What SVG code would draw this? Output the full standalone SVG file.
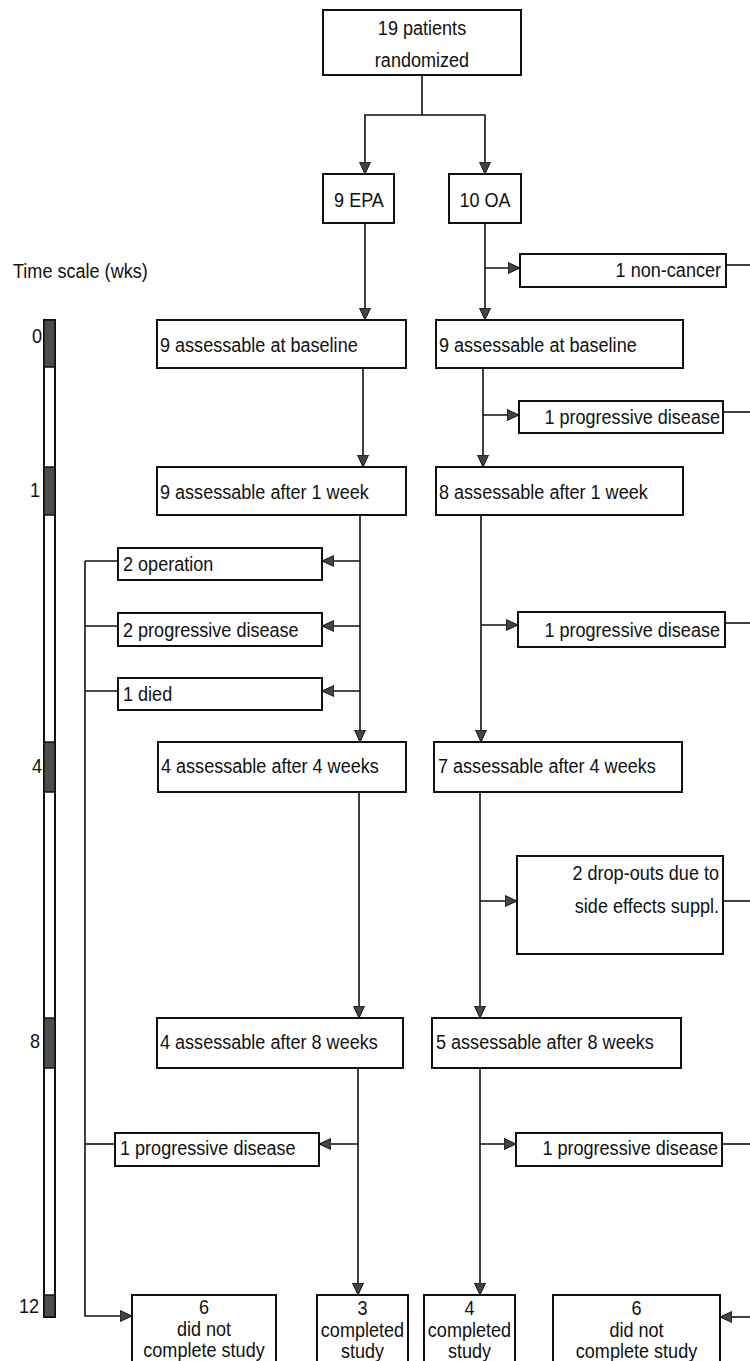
<svg xmlns="http://www.w3.org/2000/svg" width="750" height="1361" viewBox="0 0 750 1361">
<style>
text{font-family:"Liberation Sans",Arial,sans-serif;font-size:21px;fill:#111}
.box{fill:#fff;stroke:#111;stroke-width:2}
.ln{fill:none;stroke:#111;stroke-width:1.6}
.arr{marker-end:url(#ah)}
.c{text-anchor:middle}
.e{text-anchor:end}
.dark{fill:#4d4d4d;stroke:#111;stroke-width:1.5}
.bar{fill:#fff;stroke:#111;stroke-width:2}
</style>
<defs>
<marker id="ah" markerUnits="userSpaceOnUse" markerWidth="13" markerHeight="12" refX="12" refY="6" orient="auto">
<path d="M0,0.5 L12,6 L0,11.5 z" fill="#444" stroke="#111" stroke-width="1"/>
</marker>
</defs>
<rect width="750" height="1361" fill="#fff"/>

<g id="timescale">
<text transform="translate(13 278) scale(.86 1)">Time scale (wks)</text>
<rect class="bar" x="44" y="320" width="11" height="997"/>
<rect class="dark" x="44" y="320" width="11" height="47"/>
<rect class="dark" x="44" y="467" width="11" height="48"/>
<rect class="dark" x="44" y="742" width="11" height="50"/>
<rect class="dark" x="44" y="1018" width="11" height="50"/>
<rect class="dark" x="44" y="1295" width="11" height="22"/>
<text class="e" transform="translate(42 343) scale(.86 1)">0</text>
<text class="e" transform="translate(40 497) scale(.86 1)">1</text>
<text class="e" transform="translate(42 773) scale(.86 1)">4</text>
<text class="e" transform="translate(40 1048) scale(.86 1)">8</text>
<text class="e" transform="translate(39 1313) scale(.86 1)">12</text>
</g>

<g id="connectors">
<polyline class="ln" points="422,75 422,115"/>
<polyline class="ln arr" points="422,115 365,115 365,174"/>
<polyline class="ln arr" points="422,115 485,115 485,174"/>
<line class="ln arr" x1="365" y1="223" x2="365" y2="320"/>
<line class="ln arr" x1="485" y1="223" x2="485" y2="320"/>
<line class="ln arr" x1="485" y1="268" x2="520" y2="268"/>
<line class="ln" x1="726" y1="265" x2="750" y2="265"/>
<line class="ln arr" x1="363" y1="368" x2="363" y2="467"/>
<line class="ln arr" x1="483" y1="368" x2="483" y2="467"/>
<line class="ln arr" x1="483" y1="415" x2="519" y2="415"/>
<line class="ln" x1="723" y1="412" x2="750" y2="412"/>
<line class="ln arr" x1="360" y1="515" x2="360" y2="742"/>
<line class="ln arr" x1="360" y1="561" x2="322" y2="561"/>
<line class="ln arr" x1="360" y1="626" x2="322" y2="626"/>
<line class="ln arr" x1="360" y1="691" x2="322" y2="691"/>
<line class="ln arr" x1="481" y1="515" x2="481" y2="742"/>
<line class="ln arr" x1="481" y1="625" x2="518" y2="625"/>
<line class="ln" x1="725" y1="623" x2="750" y2="623"/>
<line class="ln" x1="85" y1="561" x2="118" y2="561"/>
<line class="ln" x1="85" y1="626" x2="118" y2="626"/>
<line class="ln" x1="85" y1="691" x2="118" y2="691"/>
<line class="ln" x1="85" y1="1144" x2="115" y2="1144"/>
<polyline class="ln arr" points="85,561 85,1316 132,1316"/>
<line class="ln arr" x1="359" y1="792" x2="359" y2="1018"/>
<line class="ln arr" x1="480" y1="792" x2="480" y2="1018"/>
<line class="ln arr" x1="480" y1="901" x2="517" y2="901"/>
<line class="ln" x1="723" y1="901" x2="750" y2="901"/>
<line class="ln arr" x1="358" y1="1068" x2="358" y2="1295"/>
<line class="ln arr" x1="358" y1="1144" x2="319" y2="1144"/>
<line class="ln arr" x1="480" y1="1068" x2="480" y2="1295"/>
<line class="ln arr" x1="480" y1="1144" x2="516" y2="1144"/>
<line class="ln" x1="722" y1="1144" x2="750" y2="1144"/>
<line class="ln arr" x1="750" y1="1317" x2="720" y2="1317"/>
</g>

<g id="randomized">
<rect class="box" x="323" y="10" width="198" height="65"/>
<text class="c" transform="translate(422 35) scale(.86 1)">19 patients</text>
<text class="c" transform="translate(422 67) scale(.86 1)">randomized</text>
</g>
<g id="epa">
<rect class="box" x="323" y="174" width="71" height="49"/>
<text class="c" transform="translate(359 207) scale(.86 1)">9 EPA</text>
</g>
<g id="oa">
<rect class="box" x="449" y="174" width="72" height="49"/>
<text class="c" transform="translate(485 207) scale(.86 1)">10 OA</text>
</g>
<g id="oa-noncancer">
<rect class="box" x="520" y="254" width="206" height="33"/>
<text class="e" transform="translate(721 277) scale(.86 1)">1 non-cancer</text>
</g>
<g id="epa-baseline">
<rect class="box" x="157" y="320" width="249" height="48"/>
<text transform="translate(160 352) scale(.86 1)">9 assessable at baseline</text>
</g>
<g id="oa-baseline">
<rect class="box" x="436" y="320" width="247" height="48"/>
<text transform="translate(439 352) scale(.86 1)">9 assessable at baseline</text>
</g>
<g id="oa-pd1">
<rect class="box" x="519" y="401" width="204" height="32"/>
<text class="e" transform="translate(720 424) scale(.86 1)">1 progressive disease</text>
</g>
<g id="epa-week1">
<rect class="box" x="157" y="467" width="249" height="48"/>
<text transform="translate(160 499) scale(.86 1)">9 assessable after 1 week</text>
</g>
<g id="oa-week1">
<rect class="box" x="436" y="467" width="247" height="48"/>
<text transform="translate(439 499) scale(.86 1)">8 assessable after 1 week</text>
</g>
<g id="epa-operation">
<rect class="box" x="118" y="548" width="204" height="32"/>
<text transform="translate(123 571) scale(.86 1)">2 operation</text>
</g>
<g id="epa-pd1">
<rect class="box" x="118" y="613" width="204" height="33"/>
<text transform="translate(123 637) scale(.86 1)">2 progressive disease</text>
</g>
<g id="epa-died">
<rect class="box" x="118" y="678" width="204" height="32"/>
<text transform="translate(123 701) scale(.86 1)">1 died</text>
</g>
<g id="oa-pd2">
<rect class="box" x="518" y="612" width="207" height="35"/>
<text class="e" transform="translate(720 637) scale(.86 1)">1 progressive disease</text>
</g>
<g id="epa-week4">
<rect class="box" x="158" y="742" width="248" height="50"/>
<text transform="translate(161 773) scale(.86 1)">4 assessable after 4 weeks</text>
</g>
<g id="oa-week4">
<rect class="box" x="434" y="742" width="248" height="50"/>
<text transform="translate(438 773) scale(.86 1)">7 assessable after 4 weeks</text>
</g>
<g id="oa-dropouts">
<rect class="box" x="517" y="856" width="206" height="98"/>
<text class="e" transform="translate(719 880) scale(.86 1)">2 drop-outs due to</text>
<text class="e" transform="translate(719 913) scale(.86 1)">side effects suppl.</text>
</g>
<g id="epa-week8">
<rect class="box" x="157" y="1018" width="246" height="50"/>
<text transform="translate(160 1049) scale(.86 1)">4 assessable after 8 weeks</text>
</g>
<g id="oa-week8">
<rect class="box" x="432" y="1018" width="249" height="50"/>
<text transform="translate(436 1049) scale(.86 1)">5 assessable after 8 weeks</text>
</g>
<g id="epa-pd2">
<rect class="box" x="115" y="1133" width="204" height="33"/>
<text transform="translate(120 1155) scale(.86 1)">1 progressive disease</text>
</g>
<g id="oa-pd3">
<rect class="box" x="516" y="1133" width="206" height="33"/>
<text class="e" transform="translate(718 1155) scale(.86 1)">1 progressive disease</text>
</g>
<g id="epa-notcomplete">
<rect class="box" x="132" y="1295" width="144" height="80"/>
<text class="c" transform="translate(204 1314) scale(.86 1)">6</text>
<text class="c" transform="translate(204 1336) scale(.86 1)">did not</text>
<text class="c" transform="translate(204 1357) scale(.86 1)">complete study</text>
</g>
<g id="epa-completed">
<rect class="box" x="317" y="1295" width="91" height="80"/>
<text class="c" transform="translate(362.5 1315) scale(.86 1)">3</text>
<text class="c" transform="translate(362.5 1337) scale(.86 1)">completed</text>
<text class="c" transform="translate(362.5 1358) scale(.86 1)">study</text>
</g>
<g id="oa-completed">
<rect class="box" x="424" y="1295" width="91" height="80"/>
<text class="c" transform="translate(469.5 1315) scale(.86 1)">4</text>
<text class="c" transform="translate(469.5 1337) scale(.86 1)">completed</text>
<text class="c" transform="translate(469.5 1358) scale(.86 1)">study</text>
</g>
<g id="oa-notcomplete">
<rect class="box" x="553" y="1295" width="167" height="80"/>
<text class="c" transform="translate(636.5 1315) scale(.86 1)">6</text>
<text class="c" transform="translate(636.5 1337) scale(.86 1)">did not</text>
<text class="c" transform="translate(636.5 1358) scale(.86 1)">complete study</text>
</g>
</svg>
